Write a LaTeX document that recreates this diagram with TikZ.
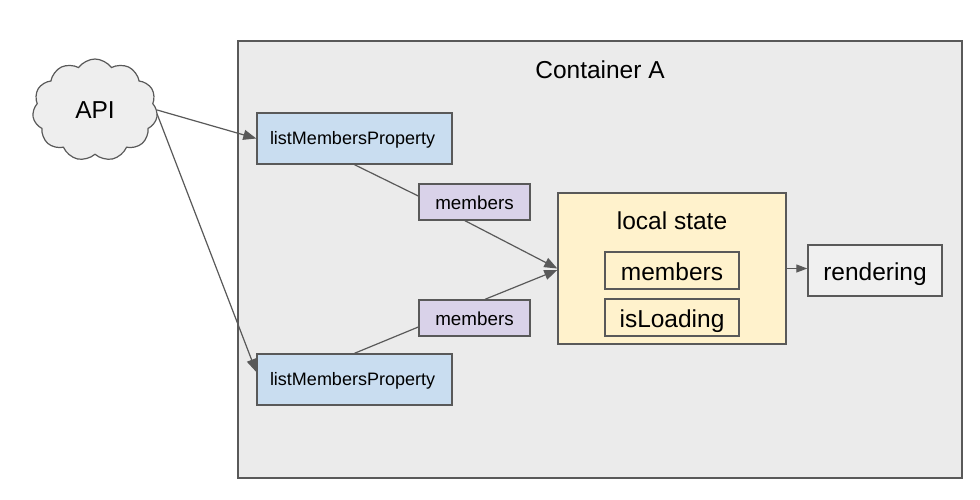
\documentclass[tikz,border=0pt]{standalone}
\usepackage{fontspec}
\setmainfont{Liberation Sans}
\usetikzlibrary{shapes.symbols,arrows.meta}
\definecolor{cont}{HTML}{EBEBEB}
\definecolor{edge}{HTML}{595959}
\definecolor{lmpfill}{HTML}{C9DDF0}
\definecolor{memfill}{HTML}{D9D2E9}
\definecolor{lsfill}{HTML}{FFF2CC}
\definecolor{rendfill}{HTML}{F0F0F0}
\definecolor{cloudfill}{HTML}{EEEEEE}
\tikzset{
  big/.style={font=\fontsize{24.5}{28}\selectfont},
  bigtxt/.style={big, text height=25.6pt, text depth=5pt},
  small/.style={font=\fontsize{18}{21}\selectfont, text height=15pt, text depth=3.7pt},
  boxy/.style={draw=edge, line width=1.4pt, rectangle, inner sep=0pt},
  lmpbox/.style={boxy, fill=lmpfill, small, minimum height=51pt, inner xsep=13pt, text width=169pt, align=left},
  membox/.style={boxy, fill=memfill, font=\fontsize{18.8}{21}\selectfont, text height=19.5pt, text depth=3.9pt, minimum width=111pt, minimum height=36pt},
  innerbox/.style={boxy, fill=lsfill, bigtxt, minimum width=134pt, minimum height=37pt},
  conn/.style={draw=edge, line width=1.2pt},
  arr/.style={conn, -{Triangle[length=13pt,width=10pt]}},
  sarr/.style={conn, -{Triangle[length=11pt,width=8pt]}}
}
\begin{document}
\begin{tikzpicture}[x=1pt,y=-1pt]
\useasboundingbox (0,0) rectangle (980,499);
\fill[white] (0,0) rectangle (980,499);
\draw[draw=edge, line width=1.5pt, fill=cont] (238,41) rectangle (962,478);
\node[big] (title) at (600,70) {Container A};
\node[cloud, cloud puffs=11, cloud puff arc=110, draw=edge, line width=1.2pt, fill=cloudfill, minimum width=125pt, minimum height=102pt, big, inner sep=0pt] (api) at (95,110) {API};
\node[lmpbox] (lmp1) at (354.5,138.5) {listMembersProperty};
\node[lmpbox] (lmp2) at (354.5,379.5) {listMembersProperty};
\node[membox] (mem1) at (474.5,202) {members};
\node[membox] (mem2) at (474.5,318) {members};
\node[boxy, fill=lsfill, minimum width=228pt, minimum height=151pt] (ls) at (672,268.5) {};
\node[big] (lstitle) at (672,221) {local state};
\node[innerbox] (im) at (672,270.5) {members};
\node[innerbox] (il) at (672,317.5) {isLoading};
\node[boxy, fill=rendfill, bigtxt, minimum width=134pt, minimum height=51pt] (rend) at (875,270.5) {rendering};
\draw[arr] (api.east) -- (lmp1.west);
\draw[arr] ([yshift=-4pt]api.east) -- ([yshift=7.5pt]lmp2.west);
\draw[conn] (lmp1.south) -- ([yshift=6pt]mem1.west);
\draw[arr] ([xshift=-9.5pt]mem1.south) -- (ls.west);
\draw[conn] (lmp2.north) -- ([yshift=-9pt]mem2.west);
\draw[arr] ([xshift=10.5pt]mem2.north) -- ([yshift=-1.5pt]ls.west);
\draw[sarr] (ls.east) -- (ls.east -| rend.west);
\end{tikzpicture}
\end{document}
